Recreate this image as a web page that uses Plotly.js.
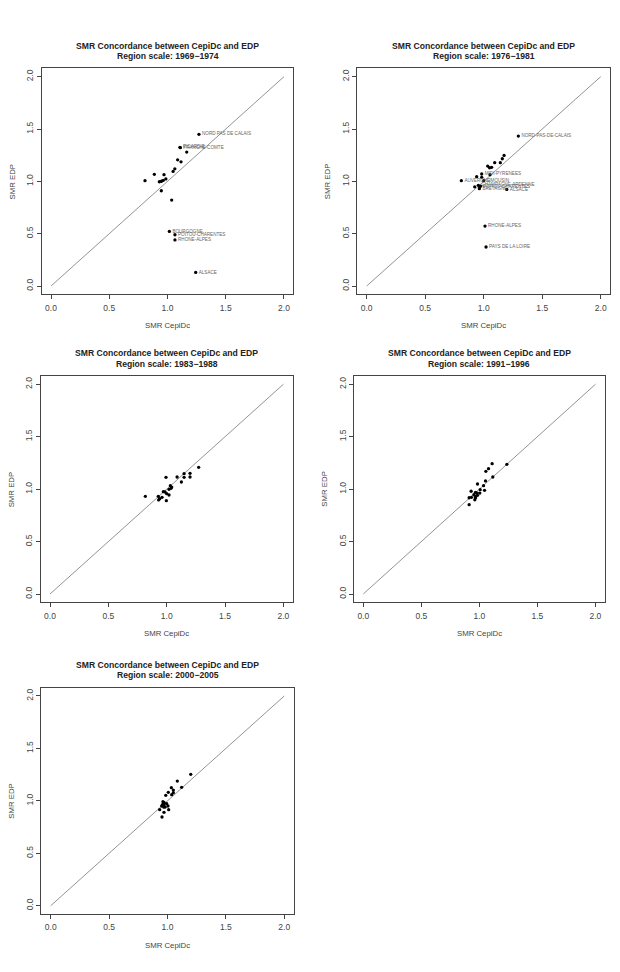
<!DOCTYPE html>
<html>
<head>
<meta charset="utf-8">
<script src="https://cdn.plot.ly/plotly-3.0.1.min.js"></script>
<style>html,body{margin:0;padding:0;background:#fff;}#chart{width:620px;height:972px;}</style>
</head>
<body>
<div id="chart"></div>
<script>
// ---------- data ----------
const periods = ["1969\u22121974", "1976\u22121981", "1983\u22121988", "1991\u22121996", "2000\u22122005"];
const identityLine = [0, 2];
const tickValues = [0, 0.5, 1.0, 1.5, 2.0];
const tickLabels = ["0.0", "0.5", "1.0", "1.5", "2.0"];

// 1969-1974
const cepidc1 = [1.27, 1.107, 1.110, 1.165, 1.087, 1.116, 1.063, 1.048, 0.887, 0.970, 0.807, 0.930, 0.950, 0.964, 0.986, 0.947, 1.036, 0.945, 1.016, 1.064, 1.064, 1.242];
const edp1    = [1.449, 1.325, 1.322, 1.280, 1.206, 1.187, 1.120, 1.095, 1.067, 1.064, 1.006, 0.996, 1.003, 1.010, 1.023, 0.910, 0.821, 1.000, 0.522, 0.490, 0.440, 0.130];
const labels1 = ["NORD PAS DE CALAIS", "PICARDIE", "FRANCHE-COMTE", "", "", "", "", "", "", "", "", "", "", "", "", "", "", "", "BOURGOGNE", "POITOU-CHARENTES", "RHONE-ALPES", "ALSACE"];

// 1976-1981
const cepidc2 = [1.296, 1.174, 1.159, 1.142, 1.094, 1.034, 1.068, 1.050, 0.983, 0.983, 0.940, 1.054, 0.809, 1.000, 0.923, 0.954, 0.966, 0.974, 0.963, 1.197, 1.011, 1.020];
const edp2    = [1.433, 1.248, 1.216, 1.178, 1.178, 1.146, 1.134, 1.130, 1.070, 1.038, 1.045, 1.063, 1.006, 1.006, 0.948, 0.962, 0.946, 0.955, 0.930, 0.923, 0.573, 0.373];
const labels2 = ["NORD-PAS-DE-CALAIS", "", "", "", "", "", "", "", "MIDI-PYRENEES", "", "", "", "AUVERGNE", "LIMOUSIN", "", "CHAMPAGNE-ARDENNE", "POITOU-CHARENTES", "", "BRETAGNE", "ALSACE", "RHONE-ALPES", "PAYS DE LA LOIRE"];

// 1983-1988
const cepidc3 = [1.274, 1.200, 1.200, 1.149, 1.149, 1.089, 0.994, 1.126, 1.031, 1.037, 1.020, 0.986, 1.000, 1.020, 0.928, 0.960, 0.940, 0.931, 0.997, 0.817, 0.971, 1.043];
const edp3    = [1.208, 1.151, 1.116, 1.148, 1.113, 1.116, 1.113, 1.068, 1.033, 1.008, 0.998, 0.973, 0.957, 0.944, 0.932, 0.922, 0.909, 0.897, 0.890, 0.932, 0.976, 1.020];

// 1991-1996
const cepidc4 = [1.110, 1.237, 1.079, 1.056, 1.116, 1.053, 1.036, 0.984, 0.929, 1.045, 0.967, 0.981, 1.004, 0.953, 0.984, 0.967, 0.932, 0.912, 0.961, 0.967, 0.912, 1.007];
const edp4    = [1.243, 1.237, 1.195, 1.170, 1.116, 1.078, 1.033, 1.049, 0.980, 0.989, 0.970, 0.963, 0.963, 0.947, 0.941, 0.932, 0.922, 0.918, 0.899, 0.918, 0.852, 0.995];

// 2000-2005
const cepidc5 = [1.199, 1.084, 1.121, 1.033, 1.050, 1.007, 1.050, 1.036, 0.985, 0.961, 0.993, 0.970, 0.950, 0.980, 1.004, 0.933, 1.010, 0.967, 0.970, 0.953, 0.972, 0.959];
const edp5    = [1.253, 1.189, 1.129, 1.126, 1.103, 1.081, 1.078, 1.059, 1.053, 0.992, 0.973, 0.960, 0.951, 0.941, 0.951, 0.916, 0.916, 0.941, 0.891, 0.846, 0.982, 0.967];

const panels = [
  {x: cepidc1, y: edp1, labels: labels1},
  {x: cepidc2, y: edp2, labels: labels2},
  {x: cepidc3, y: edp3, labels: null},
  {x: cepidc4, y: edp4, labels: null},
  {x: cepidc5, y: edp5, labels: null}
];

// ---------- layout geometry (pixels) ----------
const W = 620, H = 972;
const boxes = [
  {l: 41.7, r: 293.3, t: 68.3, b: 294.4},
  {l: 357.3, r: 610.1, t: 68.3, b: 294.4},
  {l: 40.7, r: 292.7, t: 375.9, b: 602.4},
  {l: 354.0, r: 604.7, t: 375.9, b: 602.4},
  {l: 41.4, r: 293.6, t: 687.6, b: 914.1}
];
const px = v => v / W;
const py = v => 1 - v / H;

const FONT = "Liberation Sans, Arial, Helvetica, sans-serif";
const traces = [];
const layout = {
  width: W, height: H,
  margin: {l: 0, r: 0, t: 0, b: 0},
  paper_bgcolor: "#ffffff",
  plot_bgcolor: "#ffffff",
  showlegend: false,
  font: {family: FONT, color: "#333"},
  annotations: []
};

panels.forEach((p, i) => {
  const n = i + 1;
  const xa = n === 1 ? "x" : "x" + n;
  const ya = n === 1 ? "y" : "y" + n;
  const bx = boxes[i];

  traces.push({
    x: identityLine, y: identityLine, xaxis: xa, yaxis: ya,
    mode: "lines", line: {color: "#777", width: 0.8}, hoverinfo: "skip"
  });
  const t = {
    x: p.x, y: p.y, xaxis: xa, yaxis: ya,
    mode: p.labels ? "markers+text" : "markers",
    marker: {color: "#000", size: 3.3, symbol: "circle"},
    cliponaxis: false
  };
  if (p.labels) {
    t.text = p.labels;
    t.textposition = "middle right";
    t.textfont = {family: FONT, size: 4.6, color: "#666"};
  }
  traces.push(t);

  const axCommon = {
    range: [-0.08, 2.08],
    tickvals: tickValues, ticktext: tickLabels,
    showgrid: false, zeroline: false,
    showline: true, mirror: true, linecolor: "#444", linewidth: 1,
    ticks: "outside", ticklen: 4, tickcolor: "#444", tickwidth: 1,
    tickfont: {family: FONT, size: 8.5, color: "#444"},
    fixedrange: true
  };
  layout["xaxis" + (n === 1 ? "" : n)] = Object.assign({}, axCommon, {
    domain: [px(bx.l), px(bx.r)], anchor: ya, ticklabelstandoff: 1
  });
  layout["yaxis" + (n === 1 ? "" : n)] = Object.assign({}, axCommon, {
    domain: [py(bx.b), py(bx.t)], anchor: xa, tickangle: -90, ticklabelstandoff: 0
  });

  const cx = (bx.l + bx.r) / 2;
  layout.annotations.push(
    {text: "<b>SMR Concordance between CepiDc and EDP</b>", xref: "paper", yref: "paper",
     x: px(cx), y: py(bx.t - 22.6), xanchor: "center", yanchor: "middle", showarrow: false,
     font: {family: FONT, size: 8.6, color: "#222"}},
    {text: "<b>Region scale: " + periods[i] + "</b>", xref: "paper", yref: "paper",
     x: px(cx), y: py(bx.t - 12.3), xanchor: "center", yanchor: "middle", showarrow: false,
     font: {family: FONT, size: 8.6, color: "#222"}},
    {text: "SMR CepiDc", xref: "paper", yref: "paper",
     x: px(cx), y: py(bx.b + 31.5), xanchor: "center", yanchor: "middle", showarrow: false,
     font: {family: FONT, size: 7.8, color: "#444"}},
    {text: "SMR EDP", xref: "paper", yref: "paper", textangle: -90,
     x: px(bx.l - 29.5), y: py((bx.t + bx.b) / 2), xanchor: "center", yanchor: "middle", showarrow: false,
     font: {family: FONT, size: 7.8, color: "#444"}}
  );
});

Plotly.newPlot("chart", traces, layout, {staticPlot: true, displayModeBar: false});
</script>
</body>
</html>
